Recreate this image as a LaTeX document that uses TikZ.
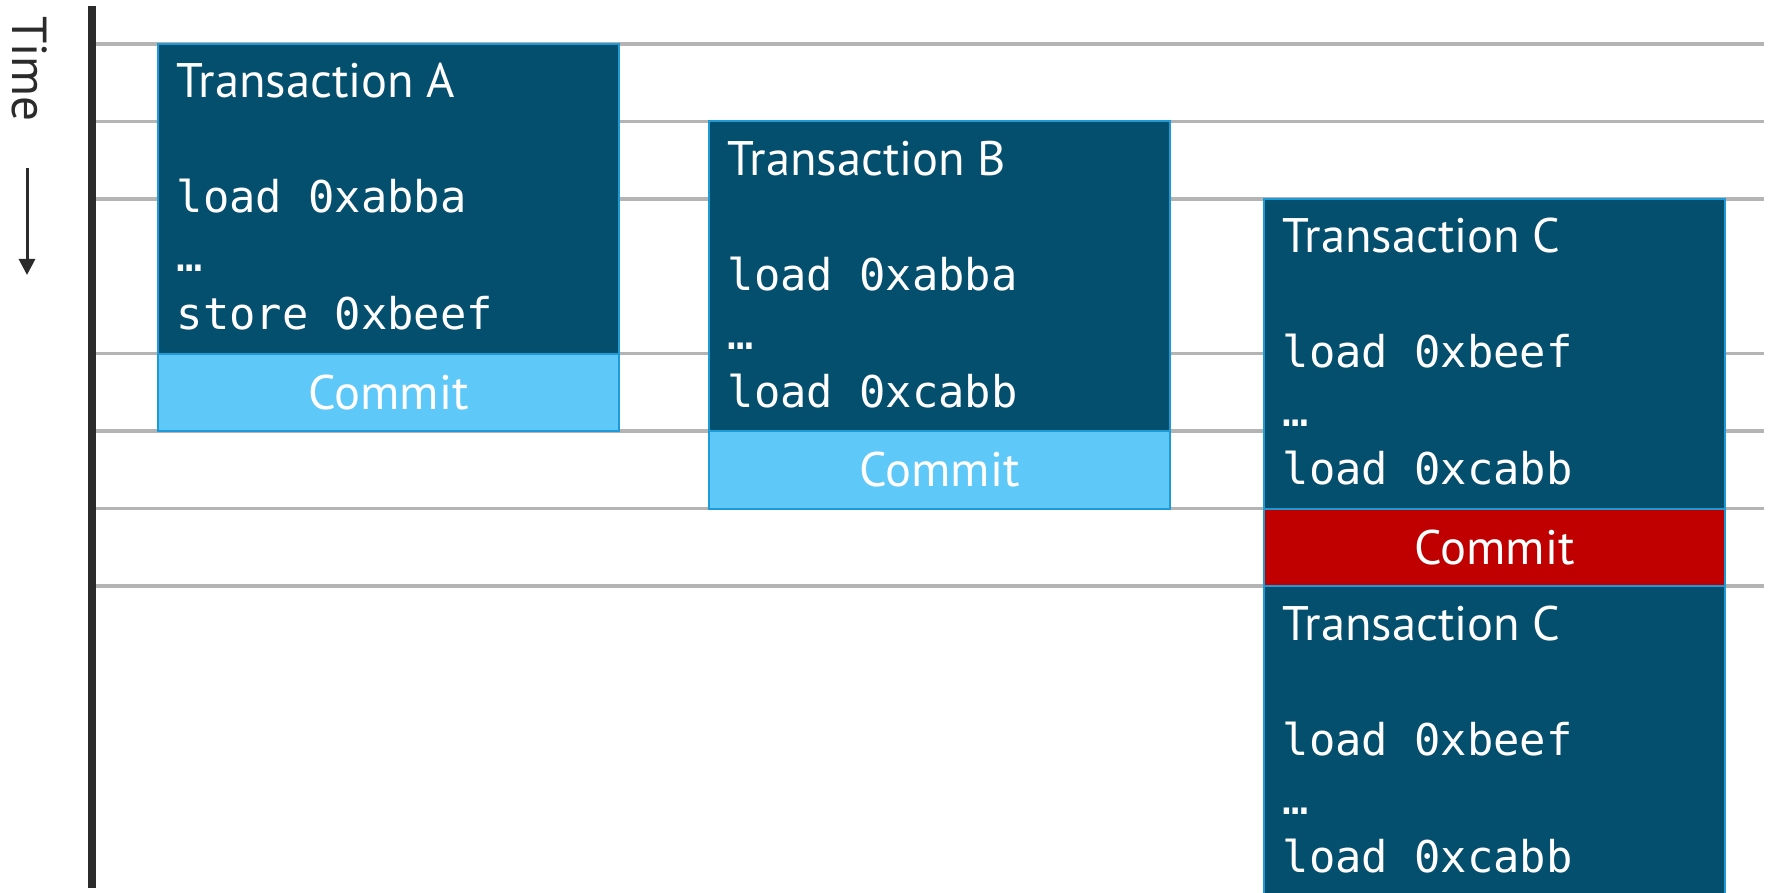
\documentclass[tikz,border=0pt]{standalone}
\usepackage{fontspec}
\setmainfont{PT Sans}
\setmonofont{DejaVu Sans Mono}
\usepackage{tikz}
\usetikzlibrary{positioning}
\usetikzlibrary{arrows.meta}

\definecolor{txblue}{HTML}{054F6E}
\definecolor{txedge}{HTML}{1E9AD6}
\definecolor{okblue}{HTML}{5EC8F8}
\definecolor{abortred}{HTML}{C00000}
\definecolor{gridgray}{HTML}{B4B4B4}
\definecolor{axisgray}{HTML}{2B2B2B}

\tikzset{
  gridline/.style={draw=gridgray, line width=0.035cm},
  txbox/.style={draw=txedge, line width=0.02cm, fill=txblue, anchor=north west,
    minimum width=4.61cm, minimum height=30.972mm, inner sep=0pt, outer sep=0pt},
  commitbox/.style={draw=txedge, line width=0.02cm, fill=okblue, text=white,
    font=\fontsize{13.8}{17}\selectfont, minimum width=4.61cm,
    minimum height=7.743mm, inner sep=0pt, outer sep=0pt},
  abortbox/.style={commitbox, fill=abortred},
  txtitle/.style={text=white, font=\fontsize{13.8}{17}\selectfont,
    anchor=base west, inner sep=0pt},
  txcode/.style={text=white, font=\ttfamily\fontsize{12.45}{14}\selectfont,
    anchor=base west, inner sep=0pt}
}

\begin{document}
\begin{tikzpicture}
\useasboundingbox (0,0) rectangle (17.68,-8.93);
\clip (0,0) rectangle (17.68,-8.93);

% time axis
\draw[axisgray, line width=0.08cm] (0.92,-0.06) -- (0.92,-8.88);
\node[rotate=-90, inner sep=0pt, text=axisgray, font=\fontsize{14}{17}\selectfont] (time) at (0.295,-0.69) {Time};
\coordinate (t0) at (0.27,-1.68);
\coordinate (t1) at (0.27,-2.75);
\draw[axisgray, line width=0.03cm, -{Triangle[width=0.16cm,length=0.16cm]}] (t0) -- (t1);

% time slots
\foreach \r in {0,1,2,4,5,6,7}{
\draw[gridline] (0.96,{-0.44cm-\r*7.743mm}) -- (17.64,{-0.44cm-\r*7.743mm});
}

% transactions
\node[txbox] (ta) at (1.58,-0.44) {};
\node[commitbox, below=0pt of ta] (ta-c) {Commit};
\node[txbox] (tb) at (7.09,{-0.44cm-7.743mm}) {};
\node[commitbox, below=0pt of tb] (tb-c) {Commit};
\node[txbox] (tc) at (12.64,{-0.44cm-2*7.743mm}) {};
\node[abortbox, below=0pt of tc] (tc-c) {Commit};
\node[txbox, below=0pt of tc-c] (td) {};

\foreach \b/\t/\first/\last in {ta/A/load 0xabba/store 0xbeef,
    tb/B/load 0xabba/load 0xcabb,
    tc/C/load 0xbeef/load 0xcabb,
    td/C/load 0xbeef/load 0xcabb}{
\node[txtitle] (\b-t) at ([shift={(0.18cm,-0.54cm)}]\b.north west) {Transaction \t};
\node[txcode] (\b-1) at ([shift={(0.18cm,-1.69cm)}]\b.north west) {\first};
\node[txcode] (\b-2) at ([shift={(0.18cm,-2.28cm)}]\b.north west) {…};
\node[txcode] (\b-3) at ([shift={(0.18cm,-2.86cm)}]\b.north west) {\last};
}
\end{tikzpicture}
\end{document}
